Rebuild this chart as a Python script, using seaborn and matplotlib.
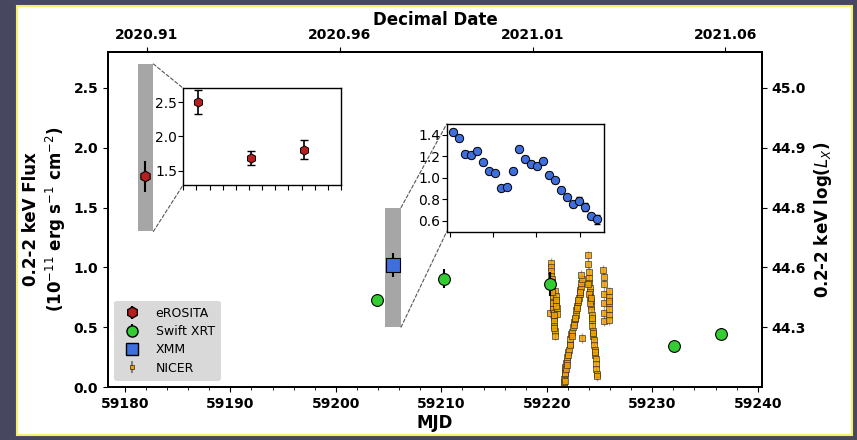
import numpy as np
import pandas as pd
import matplotlib
matplotlib.use("Agg")
import matplotlib.pyplot as plt
import seaborn as sns
from matplotlib.patches import Rectangle, ConnectionPatch
from matplotlib.ticker import MultipleLocator

sns.set_style("ticks")
plt.rcParams['font.family'] = ['DejaVu Sans']
plt.rcParams.update({"text.color": "black", "axes.labelcolor": "black",
                     "xtick.color": "black", "ytick.color": "black",
                     "axes.edgecolor": "black"})

# ---------------- data ----------------
ero_mjd = [59181.9]
ero_flux = [1.76]
ero_err = [0.13]

ero_scan_mjd = [59181.34, 59181.84, 59182.35]
ero_scan_flux = [2.50, 1.69, 1.81]
ero_scan_err = [0.18, 0.10, 0.14]

swift_mjd = [59203.93, 59210.27, 59220.34, 59232.06, 59236.50]
swift_flux = [0.725, 0.905, 0.863, 0.339, 0.445]
swift_err = [0.05, 0.08, 0.10, 0.04, 0.05]

xmm_mjd = [59205.45]
xmm_flux = [1.02]
xmm_err = [0.10]

xmm_start = 59204.724
xmm_t_ks = [0, 5, 10, 15, 20, 25, 30, 35, 40, 45, 50, 55, 60,
            65, 70, 75, 80, 85, 90, 95, 100, 105, 110, 115, 120]
xmm_flux_t = [1.425, 1.370, 1.225, 1.210, 1.250, 1.145, 1.060, 1.045, 0.905, 0.917,
              1.065, 1.268, 1.175, 1.130, 1.110, 1.157, 1.028, 0.978, 0.889, 0.818,
              0.754, 0.788, 0.729, 0.646, 0.615]
xmm_err_t = [0.025, 0.025, 0.025, 0.025, 0.025, 0.025, 0.02, 0.02, 0.02, 0.02,
             0.025, 0.03, 0.025, 0.025, 0.025, 0.03, 0.025, 0.025, 0.025, 0.025,
             0.025, 0.03, 0.04, 0.03, 0.04]

nicer_mjd = [
    # flare 1
    59220.30, 59220.38, 59220.40, 59220.42, 59220.44, 59220.46, 59220.48, 59220.50,
    59220.52, 59220.55, 59220.57, 59220.59, 59220.61, 59220.63, 59220.65, 59220.67,
    59220.69, 59220.71, 59220.73, 59220.75, 59220.82, 59220.86, 59220.89, 59220.92,
    59220.95, 59220.47, 59220.53, 59220.60, 59220.66, 59220.72, 59220.84, 59220.90,
    # rise
    59221.60, 59221.63, 59221.66, 59221.70, 59221.73, 59221.77, 59221.82, 59221.88,
    59221.95, 59222.02, 59222.08, 59222.16, 59222.24, 59222.33, 59222.41, 59222.50,
    59222.57, 59222.64, 59222.72, 59222.80, 59222.88, 59222.96, 59223.03, 59223.10,
    59223.16, 59223.22, 59223.28, 59223.35, 59223.25, 59223.32,
    59221.68, 59221.75, 59221.80, 59221.91, 59222.05, 59222.20, 59222.37, 59222.54,
    59222.68, 59222.85, 59223.00, 59223.13,
    # decline
    59223.89, 59223.93, 59223.97, 59224.00, 59224.04, 59224.07, 59224.10, 59224.13,
    59224.16, 59224.19, 59224.22, 59224.25, 59224.29, 59224.33, 59224.38, 59224.42,
    59224.46, 59224.50, 59224.54, 59224.58, 59224.62, 59224.66, 59224.70, 59224.74,
    59224.78, 59223.95, 59224.00, 59224.05, 59224.15, 59224.27, 59224.40, 59224.56,
    # late pieces
    59225.36, 59225.38, 59225.40, 59225.41, 59225.39, 59225.42, 59225.40,
    59225.86, 59225.88, 59225.90, 59225.92, 59225.89, 59225.91, 59225.87,
]
nicer_flux = [
    0.62, 1.04, 1.00, 0.97, 0.93, 0.90, 0.86, 0.84,
    0.80, 0.77, 0.74, 0.71, 0.68, 0.65, 0.62, 0.58,
    0.55, 0.51, 0.47, 0.43, 0.80, 0.76, 0.71, 0.66,
    0.61, 0.88, 0.79, 0.70, 0.60, 0.49, 0.73, 0.68,
    0.01, 0.04, 0.07, 0.11, 0.14, 0.17, 0.20, 0.22,
    0.25, 0.29, 0.31, 0.36, 0.40, 0.44, 0.46, 0.50,
    0.54, 0.57, 0.60, 0.64, 0.68, 0.71, 0.74, 0.78,
    0.81, 0.84, 0.87, 0.90, 0.94, 0.41,
    0.05, 0.12, 0.15, 0.18, 0.27, 0.35, 0.43, 0.52,
    0.58, 0.66, 0.73, 0.79,
    1.10, 1.03, 0.96, 0.91, 0.87, 0.83, 0.79, 0.75,
    0.72, 0.68, 0.64, 0.60, 0.56, 0.51, 0.47, 0.43,
    0.39, 0.35, 0.31, 0.27, 0.23, 0.19, 0.15, 0.11,
    0.09, 0.86, 0.78, 0.70, 0.74, 0.58, 0.45, 0.29,
    0.98, 0.92, 0.86, 0.78, 0.70, 0.62, 0.55,
    0.80, 0.75, 0.70, 0.65, 0.60, 0.56, 0.72,
]
nicer_err = [0.04] * len(nicer_flux)

dec_year_ticks = [2020.91, 2020.96, 2021.01, 2021.06]
dec_year_labels = ["2020.91", "2020.96", "2021.01", "2021.06"]
lx_tick_flux = [0.5, 1.0, 1.5, 2.0, 2.5]
lx_tick_labels = ["44.3", "44.6", "44.8", "44.9", "45.0"]

# ---------------- figure ----------------
W, H = 857, 440
fig = plt.figure(figsize=(W / 100, H / 100), dpi=100)
fig.patch.set_facecolor("#47475f")
panel = Rectangle((17 / W, 1 - 434.5 / H), (852 - 17) / W, (434.5 - 6) / H,
                  transform=fig.transFigure, facecolor="white",
                  edgecolor="#f4f06a", linewidth=1.5, zorder=-10)
fig.add_artist(panel)

def fx(px):
    return px / W

def fy(py):
    return 1 - py / H

ax = fig.add_axes([fx(108), fy(387), fx(762) - fx(108), fy(52) - fy(387)])
ax.set_facecolor("white")
ax.set_xlim(59178.4, 59240.4)
ax.set_ylim(0, 2.8)

RED = "#b51f1f"
GREEN = "#33cc33"
BLUE = "#3f6fdc"
ORANGE = "#f0a000"

# inset regions
r1 = (59181.2, 59182.7, 1.30, 2.70)
r2 = (59204.66, 59206.18, 0.50, 1.50)
for (x0, x1, y0, y1) in (r1, r2):
    ax.add_patch(Rectangle((x0, y0), x1 - x0, y1 - y0, facecolor="#a6a6a6",
                           edgecolor="none", zorder=1))

# NICER
ax.errorbar(nicer_mjd, nicer_flux, yerr=nicer_err, fmt="none", ecolor="dimgray",
            elinewidth=1.0, alpha=0.6, zorder=2)
ndf = pd.DataFrame({"mjd": nicer_mjd, "flux": nicer_flux})
sns.scatterplot(data=ndf, x="mjd", y="flux", ax=ax, marker="s", s=14,
                color=ORANGE, edgecolor="#222222", linewidth=0.5, alpha=0.85,
                zorder=3, legend=False)

# eROSITA / Swift / XMM
ax.errorbar(ero_mjd, ero_flux, yerr=ero_err, fmt="none", ecolor="black",
            elinewidth=1.5, zorder=4)
ax.errorbar(swift_mjd, swift_flux, yerr=swift_err, fmt="none", ecolor="black",
            elinewidth=1.5, zorder=4)
ax.errorbar(xmm_mjd, xmm_flux, yerr=xmm_err, fmt="none", ecolor="black",
            elinewidth=1.5, zorder=4)
sns.scatterplot(x=ero_mjd, y=ero_flux, ax=ax, marker="h", s=60, color=RED,
                edgecolor="black", linewidth=0.8, zorder=5, legend=False)
sns.scatterplot(x=swift_mjd, y=swift_flux, ax=ax, marker="o", s=72, color=GREEN,
                edgecolor="black", linewidth=0.8, zorder=5, legend=False)
sns.scatterplot(x=xmm_mjd, y=xmm_flux, ax=ax, marker="s", s=90, color=BLUE,
                edgecolor="black", linewidth=0.8, zorder=5, legend=False)

# legend handles
h_ero = ax.errorbar([], [], yerr=[], fmt="h", ms=8, mfc=RED, mec="black",
                    ecolor="black", label="eROSITA")
h_sw = ax.errorbar([], [], yerr=[], fmt="o", ms=8, mfc=GREEN, mec="black",
                   ecolor="black", label="Swift XRT")
h_xmm = ax.errorbar([], [], yerr=[], fmt="s", ms=9, mfc=BLUE, mec="black",
                    ecolor="black", label="XMM")
h_nic = ax.errorbar([], [], yerr=[], fmt="s", ms=3.5, mfc=ORANGE, mec="black",
                    mew=0.4, ecolor="gray", label="NICER")
leg = ax.legend(handles=[h_ero, h_sw, h_xmm, h_nic], loc="lower left",
                fontsize=9, facecolor="#d9d9d9", edgecolor="none", framealpha=1,
                handletextpad=1.0, borderpad=0.5, labelspacing=0.42,
                handlelength=1.8)
leg.set_zorder(10)

ax.xaxis.set_major_locator(MultipleLocator(10))
ax.xaxis.set_minor_locator(MultipleLocator(2))
ax.yaxis.set_major_locator(MultipleLocator(0.5))
ax.set_xlabel("MJD", fontsize=12, fontweight="bold", labelpad=2)
ax.set_ylabel("0.2-2 keV Flux\n(10$^{-11}$ erg s$^{-1}$ cm$^{-2}$)", fontsize=12,
              fontweight="bold")
for lab in ax.get_xticklabels() + ax.get_yticklabels():
    lab.set_fontweight("bold")
ax.tick_params(labelsize=10)

# top axis: decimal date
axt = ax.twiny()
axt.set_xlim(ax.get_xlim())
top_pos = [58849 + (y - 2020) * 366 if y < 2021 else 59215 + (y - 2021) * 365
           for y in dec_year_ticks]
axt.set_xticks(top_pos)
axt.set_xticklabels(dec_year_labels, fontsize=10, fontweight="bold")
axt.set_xlabel("Decimal Date", fontsize=12, fontweight="bold", labelpad=2)

# right axis: log Lx
axr = ax.twinx()
axr.set_ylim(ax.get_ylim())
axr.set_yticks(lx_tick_flux)
axr.set_yticklabels(lx_tick_labels, fontsize=10, fontweight="bold")
axr.set_ylabel("0.2-2 keV log($L_X$)", fontsize=12, fontweight="bold")

for a in (ax, axt, axr):
    for s in a.spines.values():
        s.set_linewidth(1.2)
        s.set_color("black")

# ---------------- inset 1 (eROSITA scans) ----------------
in1 = fig.add_axes([fx(183.3), fy(184.7), fx(341) - fx(183.3), fy(88.3) - fy(184.7)])
in1.set_xlim(r1[0], r1[1])
in1.set_ylim(r1[2], r1[3])
in1.errorbar(ero_scan_mjd, ero_scan_flux, yerr=ero_scan_err, fmt="none",
             ecolor="black", elinewidth=1.2, capsize=3, zorder=2)
sns.scatterplot(x=ero_scan_mjd, y=ero_scan_flux, ax=in1, marker="h", s=45,
                color=RED, edgecolor="black", linewidth=0.7, zorder=3, legend=False)
in1.set_xticks(np.arange(r1[0], r1[1] + 0.01, 0.125))
in1.set_xticklabels([])
in1.set_yticks([1.5, 2.0, 2.5])
in1.tick_params(labelsize=10, pad=1)

# ---------------- inset 2 (XMM) ----------------
in2 = fig.add_axes([fx(446.7), fy(231.7), fx(604.3) - fx(446.7), fy(124) - fy(231.7)])
in2.set_xlim(r2[0], r2[1])
in2.set_ylim(r2[2], r2[3])
xmm_t_mjd = [xmm_start + t / 86.4 for t in xmm_t_ks]
in2.errorbar(xmm_t_mjd, xmm_flux_t, yerr=xmm_err_t, fmt="none", ecolor="black",
             elinewidth=1.0, capsize=2, zorder=2)
sns.scatterplot(x=xmm_t_mjd, y=xmm_flux_t, ax=in2, marker="o", s=36, color=BLUE,
                edgecolor="black", linewidth=0.7, zorder=3, legend=False)
in2.set_xticks([xmm_start - 0.032 + k * 10 / 24 for k in range(4)])
in2.set_xticklabels([])
in2.set_yticks([0.6, 0.8, 1.0, 1.2, 1.4])
in2.tick_params(labelsize=10, pad=1)

for a in (in1, in2):
    for s in a.spines.values():
        s.set_linewidth(1.0)
        s.set_color("black")

# connectors
for r, ia in ((r1, in1), (r2, in2)):
    for yy, ay in ((r[3], 1), (r[2], 0)):
        cp = ConnectionPatch(xyA=(r[1], yy), coordsA=ax.transData,
                             xyB=(0, ay), coordsB=ia.transAxes,
                             linestyle=(0, (3, 2)), color="#555555", linewidth=0.8)
        fig.add_artist(cp)

fig.savefig("out.png", dpi=100, facecolor=fig.get_facecolor())
